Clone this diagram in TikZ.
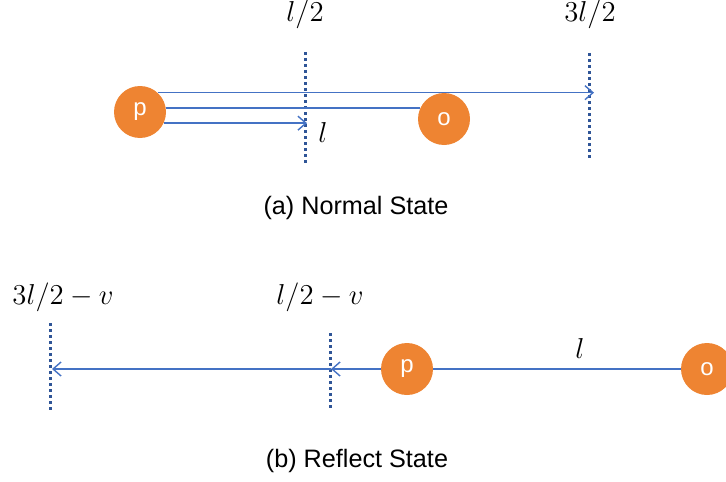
\documentclass[tikz,border=0pt]{standalone}
\usepackage{fontspec}
\setmainfont{Liberation Sans}
\usetikzlibrary{arrows.meta}
\definecolor{ballorange}{RGB}{238,132,50}
\definecolor{rayblue}{RGB}{68,114,196}
\definecolor{walldark}{RGB}{47,85,151}
\begin{document}
\begin{tikzpicture}[x=0.5pt,y=-0.5pt,line join=round,>={Straight Barb[length=4pt,width=7pt]},
  ball/.style={circle,fill=ballorange,text=white,minimum size=26pt,inner sep=0pt,font=\fontsize{12}{12}\selectfont},
  wall/.style={draw=walldark,line width=1.5pt,dash pattern=on 1.4pt off 1.6pt},
  ray/.style={draw=rayblue,line width=0.7pt},
  caption/.style={font=\fontsize{12.6}{14}\selectfont},
  mathlbl/.style={font=\fontsize{14}{16}\selectfont}]
\useasboundingbox (0,0) rectangle (726,481);
% walls
\foreach \x/\ya/\yb/\n in {305/52/163/wA,589/53/158/wB,50/323/412/wC,330/333/410/wD}{
  \draw[wall] (\x,\ya) coordinate (\n top) -- (\x,\yb) coordinate (\n bot);}
% (a) normal state
\node[mathlbl] (lblA) at (305,14) {$l/2$};
\node[mathlbl] (lblB) at (590,14) {$3l/2$};
\node[ball] (p) at (140,112) {p};
\node[ball] (o) at (444,119) {o};
\coordinate (tipA) at (594,93);
\coordinate (tipB) at (307,123);
\draw[ray,->] (p.47) -- (p.47 -| tipA);
\draw[ray] (p.9) -- (p.9 -| o.155);
\draw[ray,->] (p.-25) -- (p.-25 -| tipB);
\node[mathlbl] (lenA) at (323,132) {$l$};
\node[caption] (capA) at (356,208) {(a) Normal State};
% (b) reflect state
\node[mathlbl] (lblC) at (63,297) {$3l/2-v$};
\node[mathlbl] (lblD) at (320,297) {$l/2-v$};
\node[ball] (p2) at (407,369) {p};
\node[ball] (o2) at (707,369) {o};
\coordinate (tipC) at (331,369);
\coordinate (tipD) at (52,369);
\draw[ray] (p2.east) -- (o2.west);
\node[mathlbl] (lenB) at (580,348) {$l$};
\draw[ray,->] (p2.west) -- (tipC);
\draw[ray,->] (tipC) -- (tipD);
\node[caption] (capB) at (357,461) {(b) Reflect State};
\end{tikzpicture}
\end{document}
